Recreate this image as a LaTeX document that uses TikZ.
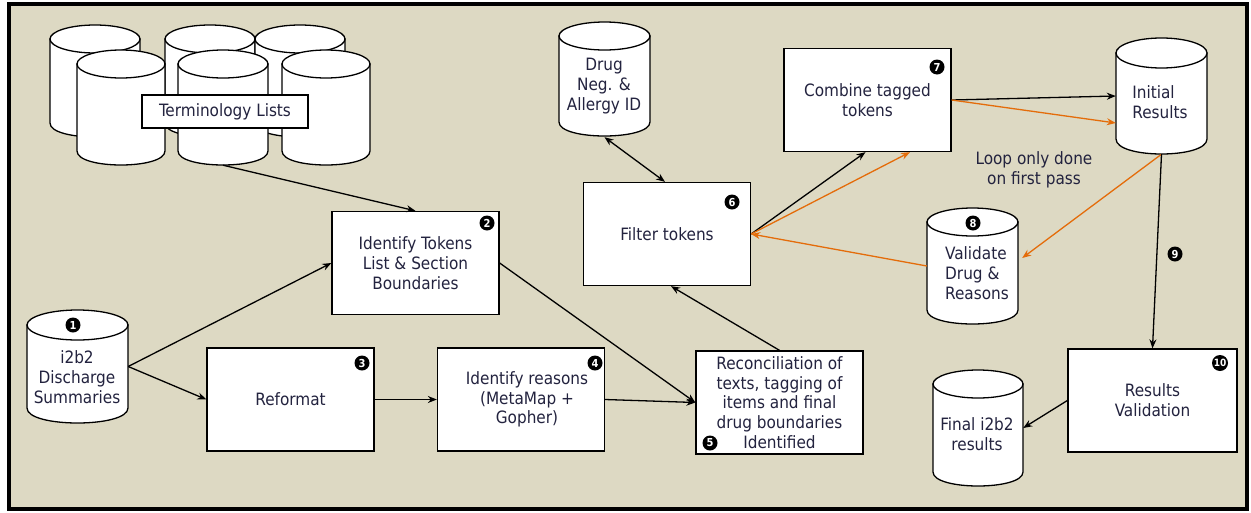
\documentclass[tikz,border=0pt]{standalone}
\usepackage{fontspec}
\setmainfont{DejaVu Sans Condensed}
\usetikzlibrary{arrows.meta,calc}
\definecolor{bgtan}{HTML}{DDD9C3}
\definecolor{orangeline}{HTML}{E46C0A}
\definecolor{textc}{HTML}{23233F}
\newcommand\dbcyl[6]{% name, cx, top, bottom, halfwidth, ry
  \path[dbfill] ({#2-#5},{#3+#6}) -- ({#2-#5},{#4-#6}) .. controls ({#2-#5},{#4+#6/3}) and ({#2+#5},{#4+#6/3}) .. ({#2+#5},{#4-#6}) -- ({#2+#5},{#3+#6}) -- cycle;
  \path[dbfill] (#2,{#3+#6}) ellipse [x radius=#5, y radius=#6];
  \node[inner sep=0pt, minimum width={2*#5*1pt}, minimum height={(#4-#3)*1pt}] (#1) at (#2,{(#3+#4)/2}) {};
}
\begin{document}
\begin{tikzpicture}[x=1pt,y=-1pt,
  dbfill/.style={draw=black, fill=white, line width=1.3pt},
  txt/.style={text=textc, align=center, font=\fontsize{17}{19.8}\selectfont},
  procbox/.style={draw=black, fill=white, line width=1.3pt, minimum width=167pt, minimum height=103pt, inner sep=1pt, txt},
  badge/.style={circle, fill=black, text=white, inner sep=0pt, minimum size=15pt, font=\bfseries\fontsize{11}{11}\selectfont},
  arr/.style={-{Stealth[length=9pt,width=7pt]}, line width=1.3pt, draw=black},
  oarr/.style={-{Stealth[length=9pt,width=7pt]}, line width=1.3pt, draw=orangeline}]
\useasboundingbox (0,0) rectangle (1251,512);
\draw[line width=3.5pt, fill=bgtan] (9,4) rectangle (1247,509);

% terminology cylinders
\dbcyl{t1}{95}{25}{137}{45}{14}
\dbcyl{t2}{210}{25}{137}{45}{14}
\dbcyl{t3}{300}{25}{137}{45}{14}
\dbcyl{t4}{121}{50}{165}{44}{14}
\dbcyl{t5}{223}{50}{165}{45}{14}
\dbcyl{t6}{326}{50}{165}{44}{14}
\node[draw=black, fill=white, line width=1.3pt, minimum width=166pt, minimum height=33pt, txt] (term) at (225,111.5) {Terminology Lists};

% other cylinders
\dbcyl{i2b2}{77.5}{310}{423}{50.5}{15}
\node[txt] (i2b2txt) at (77,377) {i2b2\\Discharge\\Summaries};
\dbcyl{drugneg}{604.5}{22}{136}{45.5}{14}
\node[txt] (drugnegtxt) at (604,86) {Drug\\Neg. \&\\Allergy ID};
\dbcyl{initial}{1161.5}{38}{154}{45.5}{15}
\node[txt, align=left] (initialtxt) at (1160,102) {Initial\\Results};
\dbcyl{validate}{972.5}{208}{324}{45.5}{14}
\node[txt, align=left] (validatetxt) at (977,273) {Validate\\Drug \&\\Reasons};
\dbcyl{final}{978}{370}{486}{45}{14}
\node[txt] (finaltxt) at (977,434) {Final i2b2\\results};

% process boxes
\node[procbox] (tokens) at (415.5,263) {Identify Tokens\\List \& Section\\Boundaries};
\node[procbox] (reformat) at (290.5,399.5) {\raisebox{-4pt}{Reformat}};
\node[procbox] (reasons) at (521,399.5) {\hspace{12pt}Identify reasons\\\hspace{12pt}(MetaMap +\\\hspace{12pt}Gopher)};
\node[procbox] (recon) at (779.5,402.5) {Reconciliation of\\texts, tagging of\\items and final\\drug boundaries\\Identified};
\node[procbox] (filter) at (667,234) {Filter tokens};
\node[procbox] (combine) at (867.5,100) {Combine tagged\\tokens};
\node[procbox, minimum width=169pt] (resval) at (1152.5,400.5) {Results\\Validation};

\node[txt] (loop) at (1034,170) {Loop only done\\on first pass};

% badges
\node[badge] (b1) at (73,325) {1};
\node[badge] (b2) at (487,223) {2};
\node[badge] (b3) at (362,363) {3};
\node[badge] (b4) at (595,363) {4};
\node[badge] (b5) at (710,443) {5};
\node[badge] (b6) at (732,202) {6};
\node[badge] (b7) at (937,67) {7};
\node[badge] (b8) at (973,223) {8};
\node[badge] (b9) at (1175,254) {9};
\node[badge, minimum size=16pt, font=\bfseries\fontsize{10}{10}\selectfont] (b10) at (1220,363) {10};

% connectors
\draw[arr] (t5.south) -- (tokens.north);
\draw[arr] (i2b2.east) -- (tokens.west);
\draw[arr] (i2b2.east) -- (reformat.west);
\draw[arr] (reformat.east) -- (reasons.west);
\draw[arr] (reasons.east) -- (recon.west);
\draw[arr] (tokens.east) -- (recon.west);
\draw[arr] (recon.north) -- ([xshift=4pt]filter.south);
\draw[{Stealth[length=9pt,width=7pt]}-{Stealth[length=9pt,width=7pt]}, line width=1.3pt] ([yshift=-1pt]drugneg.south) -- ([xshift=-2pt]filter.north);
\draw[arr] (filter.east) -- ([xshift=-2pt]combine.south);
\draw[oarr] (filter.east) -- ([xshift=42.5pt]combine.south);
\draw[oarr] (validate.west) -- (filter.east);
\draw[oarr] (initial.south) -- ([yshift=8pt,xshift=4pt]validate.east);
\draw[arr] (combine.east) -- (initial.west);
\draw[oarr] (combine.east) -- ([yshift=-27pt]initial.west);
\draw[arr] (initial.south) -- (resval.north);
\draw[arr] (resval.west) -- (final.east);
\end{tikzpicture}
\end{document}
